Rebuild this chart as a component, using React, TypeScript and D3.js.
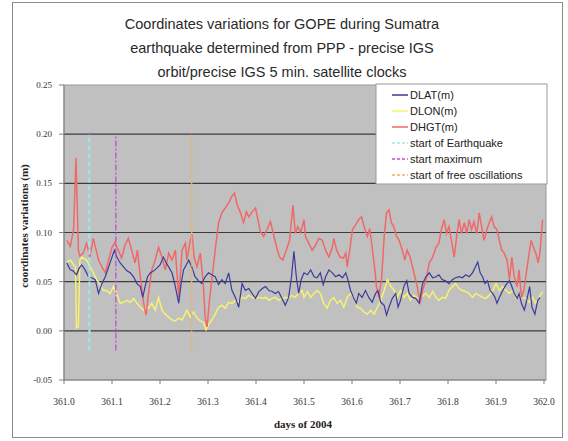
import React from "react";
import * as d3 from "d3";

// ---- data (fraction of day 361, value in m) ----
const dhgtT = [0.006,0.013,0.020,0.025,0.030,0.033,0.040,0.047,0.054,0.061,0.067,0.072,0.079,0.086,0.093,0.100,0.106,0.113,0.120,0.127,0.134,0.141,0.148,0.153,0.159,0.166,0.171,0.176,0.183,0.190,0.197,0.204,0.211,0.218,0.225,0.232,0.239,0.246,0.253,0.256,0.263,0.267,0.271,0.277,0.284,0.290,0.294,0.298,0.303,0.308,0.315,0.322,0.329,0.336,0.343,0.350,0.355,0.361,0.367,0.374,0.380,0.385,0.392,0.399,0.404,0.409,0.416,0.423,0.430,0.436,0.443,0.449,0.456,0.463,0.470,0.477,0.482,0.487,0.493,0.500,0.503,0.510,0.517,0.524,0.531,0.538,0.545,0.552,0.559,0.562,0.568,0.575,0.582,0.587,0.590,0.596,0.601,0.608,0.614,0.620,0.625,0.632,0.637,0.642,0.647,0.651,0.656,0.662,0.667,0.672,0.677,0.682,0.687,0.693,0.698,0.705,0.710,0.715,0.721,0.726,0.731,0.736,0.742,0.747,0.754,0.761,0.768,0.775,0.781,0.786,0.792,0.797,0.802,0.807,0.813,0.818,0.823,0.828,0.834,0.839,0.844,0.849,0.854,0.860,0.865,0.870,0.875,0.881,0.886,0.891,0.896,0.902,0.907,0.912,0.917,0.923,0.928,0.933,0.938,0.944,0.948,0.953,0.958,0.962,0.967,0.973,0.978,0.983,0.988,0.992,0.997];
const dhgtV = [0.092,0.086,0.103,0.176,0.082,0.076,0.079,0.089,0.075,0.094,0.082,0.072,0.065,0.059,0.072,0.085,0.090,0.082,0.074,0.087,0.094,0.082,0.069,0.082,0.055,0.028,0.016,0.038,0.062,0.072,0.085,0.075,0.062,0.079,0.072,0.082,0.034,0.082,0.089,0.072,0.092,0.098,0.075,0.065,0.079,0.049,0.014,0.004,0.031,0.052,0.082,0.110,0.120,0.125,0.130,0.137,0.140,0.128,0.121,0.110,0.121,0.116,0.121,0.125,0.113,0.101,0.096,0.103,0.111,0.099,0.085,0.075,0.072,0.082,0.092,0.128,0.099,0.106,0.100,0.113,0.096,0.089,0.082,0.087,0.094,0.092,0.082,0.075,0.085,0.094,0.082,0.075,0.074,0.079,0.065,0.085,0.103,0.108,0.113,0.116,0.106,0.096,0.104,0.085,0.065,0.045,0.034,0.055,0.096,0.120,0.123,0.110,0.106,0.096,0.092,0.082,0.072,0.082,0.075,0.065,0.055,0.045,0.028,0.041,0.052,0.069,0.075,0.085,0.089,0.103,0.113,0.099,0.106,0.092,0.075,0.096,0.113,0.099,0.110,0.099,0.113,0.103,0.111,0.099,0.120,0.106,0.092,0.103,0.110,0.116,0.106,0.103,0.092,0.082,0.079,0.072,0.052,0.075,0.055,0.045,0.062,0.034,0.041,0.055,0.072,0.092,0.085,0.079,0.069,0.082,0.113];

const dlatT = [0.006,0.013,0.019,0.026,0.032,0.037,0.044,0.051,0.058,0.065,0.072,0.079,0.086,0.093,0.100,0.105,0.110,0.117,0.124,0.131,0.138,0.145,0.152,0.159,0.164,0.169,0.174,0.180,0.187,0.194,0.200,0.207,0.213,0.218,0.225,0.232,0.239,0.244,0.249,0.260,0.267,0.273,0.280,0.287,0.294,0.301,0.308,0.315,0.322,0.329,0.336,0.343,0.350,0.357,0.364,0.371,0.378,0.385,0.392,0.399,0.406,0.413,0.420,0.427,0.434,0.440,0.447,0.454,0.461,0.468,0.474,0.479,0.484,0.489,0.494,0.500,0.507,0.514,0.521,0.527,0.534,0.540,0.545,0.552,0.559,0.566,0.573,0.580,0.587,0.592,0.597,0.604,0.609,0.614,0.621,0.628,0.635,0.642,0.649,0.654,0.660,0.667,0.672,0.677,0.684,0.691,0.696,0.701,0.708,0.714,0.719,0.726,0.733,0.740,0.747,0.754,0.761,0.768,0.775,0.781,0.788,0.795,0.802,0.809,0.816,0.823,0.830,0.837,0.844,0.851,0.856,0.862,0.867,0.872,0.877,0.882,0.888,0.893,0.898,0.902,0.907,0.914,0.921,0.928,0.933,0.938,0.944,0.948,0.953,0.959,0.964,0.970,0.975,0.981,0.987,0.992];
const dlatV = [0.069,0.062,0.061,0.057,0.064,0.067,0.062,0.055,0.054,0.052,0.038,0.048,0.055,0.065,0.075,0.082,0.075,0.069,0.065,0.061,0.059,0.055,0.048,0.045,0.034,0.045,0.055,0.059,0.061,0.064,0.067,0.075,0.069,0.065,0.059,0.045,0.028,0.048,0.062,0.072,0.064,0.055,0.051,0.048,0.055,0.059,0.057,0.055,0.047,0.052,0.048,0.059,0.041,0.034,0.024,0.048,0.041,0.043,0.038,0.033,0.040,0.043,0.045,0.041,0.040,0.038,0.040,0.033,0.026,0.034,0.055,0.081,0.055,0.038,0.052,0.059,0.057,0.062,0.055,0.054,0.059,0.047,0.055,0.062,0.059,0.055,0.057,0.054,0.059,0.051,0.041,0.033,0.028,0.038,0.034,0.041,0.034,0.029,0.038,0.041,0.029,0.026,0.016,0.024,0.033,0.038,0.024,0.031,0.045,0.051,0.038,0.034,0.033,0.028,0.048,0.055,0.059,0.054,0.055,0.057,0.052,0.051,0.048,0.052,0.054,0.055,0.054,0.057,0.055,0.059,0.064,0.070,0.059,0.055,0.048,0.051,0.041,0.038,0.034,0.028,0.034,0.041,0.047,0.051,0.045,0.038,0.033,0.038,0.028,0.021,0.031,0.045,0.024,0.017,0.031,0.034];

const dlonT = [0.006,0.013,0.019,0.024,0.026,0.030,0.033,0.037,0.047,0.058,0.068,0.075,0.082,0.089,0.096,0.103,0.110,0.117,0.124,0.131,0.138,0.145,0.152,0.159,0.166,0.171,0.176,0.183,0.190,0.197,0.204,0.211,0.218,0.225,0.232,0.239,0.246,0.256,0.263,0.270,0.277,0.284,0.291,0.296,0.301,0.308,0.315,0.322,0.329,0.336,0.343,0.350,0.357,0.364,0.371,0.378,0.385,0.392,0.399,0.406,0.413,0.420,0.427,0.434,0.440,0.447,0.454,0.461,0.468,0.474,0.481,0.489,0.496,0.500,0.507,0.514,0.521,0.527,0.534,0.541,0.548,0.555,0.562,0.569,0.576,0.583,0.590,0.597,0.604,0.611,0.618,0.625,0.632,0.639,0.646,0.653,0.660,0.667,0.674,0.681,0.688,0.694,0.701,0.708,0.715,0.722,0.729,0.736,0.743,0.754,0.761,0.768,0.775,0.781,0.788,0.795,0.802,0.809,0.816,0.823,0.830,0.837,0.844,0.851,0.858,0.865,0.872,0.879,0.886,0.893,0.900,0.907,0.914,0.921,0.928,0.935,0.942,0.948,0.955,0.962,0.969,0.976,0.983,0.990,0.997];
const dlonV = [0.070,0.072,0.068,0.065,0.003,0.004,0.072,0.075,0.072,0.062,0.052,0.047,0.041,0.041,0.038,0.045,0.038,0.028,0.029,0.031,0.029,0.033,0.028,0.024,0.021,0.024,0.023,0.028,0.021,0.034,0.021,0.017,0.014,0.011,0.010,0.013,0.011,0.021,0.014,0.019,0.013,0.010,0.008,0.001,0.006,0.011,0.017,0.024,0.026,0.023,0.029,0.028,0.031,0.029,0.034,0.033,0.036,0.034,0.033,0.034,0.033,0.034,0.031,0.033,0.034,0.031,0.033,0.034,0.033,0.036,0.034,0.038,0.041,0.034,0.040,0.034,0.038,0.041,0.038,0.028,0.023,0.031,0.034,0.028,0.031,0.024,0.034,0.038,0.034,0.024,0.023,0.019,0.017,0.021,0.017,0.024,0.031,0.041,0.052,0.045,0.041,0.034,0.041,0.034,0.038,0.031,0.036,0.033,0.034,0.038,0.034,0.040,0.034,0.031,0.034,0.033,0.041,0.045,0.048,0.043,0.041,0.040,0.038,0.034,0.038,0.036,0.034,0.033,0.036,0.041,0.048,0.041,0.045,0.041,0.038,0.041,0.033,0.038,0.034,0.033,0.029,0.034,0.028,0.034,0.040];

const markerNames = ["start of Earthquake", "start maximum", "start of free oscillations"];
const markerT = [0.053, 0.108, 0.266];
const markerRange = [-0.02, 0.2];

const xTicks = [0, 0.1, 0.2, 0.3, 0.4, 0.5, 0.6, 0.7, 0.8, 0.9, 1.0];
const xTickLabels = ["361.0","361.1","361.2","361.3","361.4","361.5","361.6","361.7","361.8","361.9","362.0"];
const yTicks = [-0.05, 0, 0.05, 0.1, 0.15, 0.2, 0.25];
const yTickLabels = ["-0.05","0.00","0.05","0.10","0.15","0.20","0.25"];

const titleLines = [
  "Coordinates variations for GOPE during Sumatra",
  "earthquake determined from PPP - precise IGS",
  "orbit/precise IGS 5 min. satellite clocks",
];

const seriesNames = ["DLAT(m)", "DLON(m)", "DHGT(m)"];
const seriesColors = ["#3b3b9a", "#f6f270", "#f06868"];
const markerColors = ["#9ae6ee", "#c050d0", "#f0b060"];
const markerDash = ["5,3", "6,2,2,2", "5,2,2,2"];

export default function App() {
  const W = 568, H = 441;
  const x = d3.scaleLinear().domain([0, 1]).range([64, 544]);
  const y = d3.scaleLinear().domain([-0.05, 0.25]).range([380, 85]);
  const serif = "'Liberation Serif', 'Times New Roman', serif";
  const sans = "'Liberation Sans', Arial, sans-serif";

  const line = d3.line<[number, number]>().x(d => x(d[0])).y(d => y(d[1]));
  const mk = (t: number[], v: number[]) => t.map((tt, i) => [tt, v[i]] as [number, number]);
  const dlat = mk(dlatT, dlatV);
  const dlon = mk(dlonT, dlonV);
  const dhgt = mk(dhgtT, dhgtV);

  const legX = 376, legY = 84, legW = 171, legH = 100;
  const legRows = [
    ...seriesNames.map((n, i) => ({ name: n, color: seriesColors[i], dash: "" })),
    ...markerNames.map((n, i) => ({ name: n, color: markerColors[i], dash: "3,2" })),
  ];

  return (
    <svg width={W} height={H} style={{ position: "absolute", left: 0, top: 0, background: "#fff" }}>
      <rect x={12.5} y={2.5} width={550} height={435} fill="#fff" stroke="#8a8a8a" strokeWidth={1} />
      {titleLines.map((t, i) => (
        <text key={i} x={282} y={28.5 + i * 24} textAnchor="middle" fontFamily={sans} fontSize={14.5} fill="#2a2a2a">{t}</text>
      ))}
      <rect x={x(0)} y={y(0.25)} width={x(1) - x(0) + 2} height={y(-0.05) - y(0.25)} fill="#c0c0c0" stroke="#9a9a9a" />
      {yTicks.filter(v => v > -0.05 && v < 0.25).map((v, i) => (
        <line key={i} x1={x(0)} x2={x(1) + 2} y1={y(v)} y2={y(v)} stroke="#3c3c3c" strokeWidth={1.2} />
      ))}
      <path d={line(dlon) || ""} fill="none" stroke={seriesColors[1]} strokeWidth={1.5} />
      <path d={line(dhgt) || ""} fill="none" stroke={seriesColors[2]} strokeWidth={1.5} />
      <path d={line(dlat) || ""} fill="none" stroke={seriesColors[0]} strokeWidth={1.2} />
      {markerT.map((t, i) => (
        <line key={i} x1={x(t)} x2={x(t)} y1={y(markerRange[0])} y2={y(markerRange[1])}
          stroke={markerColors[i]} strokeWidth={i === 0 ? 2.2 : 1.3} strokeDasharray={markerDash[i]} />
      ))}
      {/* axes */}
      <line x1={x(0)} x2={x(0)} y1={y(0.25)} y2={y(-0.05)} stroke="#808080" />
      <line x1={x(0)} x2={x(1) + 2} y1={y(-0.05)} y2={y(-0.05)} stroke="#808080" />
      {yTicks.map((v, i) => (
        <g key={i}>
          <line x1={x(0) - 5} x2={x(0)} y1={y(v)} y2={y(v)} stroke="#808080" />
          <text x={52} y={y(v) + 3} textAnchor="end" fontFamily={serif} fontSize={9} fill="#333">{yTickLabels[i]}</text>
        </g>
      ))}
      {xTicks.map((v, i) => (
        <g key={i}>
          <line x1={x(v)} x2={x(v)} y1={y(-0.05)} y2={y(-0.05) + 4} stroke="#808080" />
          <text x={x(v)} y={405} textAnchor="middle" fontFamily={serif} fontSize={9.5} fill="#333">{xTickLabels[i]}</text>
        </g>
      ))}
      <text x={303} y={428} textAnchor="middle" fontFamily={serif} fontWeight="bold" fontSize={11} fill="#222">days of 2004</text>
      <text transform="translate(28,226) rotate(-90)" textAnchor="middle" fontFamily={serif} fontWeight="bold" fontSize={11} fill="#222">coordinates variations (m)</text>
      {/* legend */}
      <rect x={legX} y={legY} width={legW} height={legH} fill="#fff" stroke="#9a9a9a" />
      {legRows.map((r, i) => (
        <g key={i}>
          <line x1={392} x2={408} y1={95 + i * 16} y2={95 + i * 16} stroke={r.color} strokeWidth={1.5} strokeDasharray={r.dash || undefined} />
          <text x={410} y={99 + i * 16} fontFamily={sans} fontSize={11} fill="#222">{r.name}</text>
        </g>
      ))}
    </svg>
  );
}
